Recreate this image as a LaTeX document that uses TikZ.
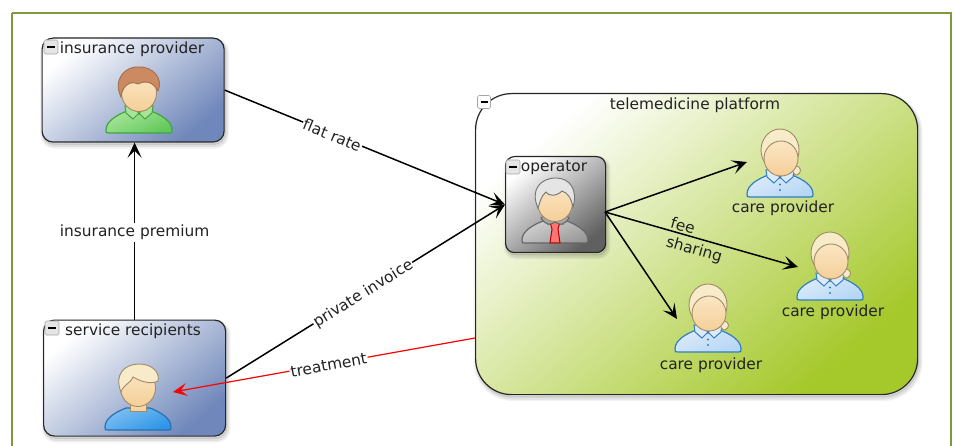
\documentclass[tikz,border=0pt]{standalone}
\usepackage{fontspec}
\setmainfont{DejaVu Sans}
\usetikzlibrary{arrows.meta,calc}
\definecolor{frame}{HTML}{7E9A3C}
\definecolor{inktext}{HTML}{222222}
\definecolor{bluebox}{HTML}{6F87BA}
\definecolor{greenbox}{HTML}{A5C82A}
\definecolor{graybox}{HTML}{606060}
\definecolor{skinlight}{HTML}{FBE6C4}
\definecolor{skindark}{HTML}{F5CF98}
\definecolor{skinedge}{HTML}{A08B66}
\definecolor{insA}{HTML}{A8E59A}
\definecolor{insB}{HTML}{62C85A}
\definecolor{insE}{HTML}{3FA53F}
\definecolor{srvA}{HTML}{7FBFF2}
\definecolor{srvB}{HTML}{2E95E8}
\definecolor{srvE}{HTML}{2A6FB0}
\definecolor{cpA}{HTML}{DCEBFA}
\definecolor{cpB}{HTML}{B5D6F5}
\definecolor{cpE}{HTML}{2F7FC0}
\definecolor{hairbrown}{HTML}{CC8A62}
\definecolor{hairbrownE}{HTML}{A0704F}
\definecolor{hairblond}{HTML}{F8EBC9}
\tikzset{
  softshadow/.style={
    preaction={draw=black,draw opacity=.05,line width=7pt,transform canvas={shift={(1.5pt,-3pt)}}},
    preaction={draw=black,draw opacity=.07,line width=4pt,transform canvas={shift={(1.5pt,-3pt)}}},
    preaction={draw=black,draw opacity=.10,line width=1.5pt,transform canvas={shift={(1pt,-2pt)}}}},
  actorbox/.style={draw=black!85,line width=1.2pt,rounded corners=11pt,inner sep=0pt,softshadow,
    top color=white,bottom color=bluebox,shading angle=40},
  groupbox/.style={draw=black!85,line width=1.2pt,rounded corners=36pt,inner sep=0pt,softshadow,
    top color=white,bottom color=greenbox,shading angle=40},
  opbox/.style={draw=black!85,line width=1.2pt,rounded corners=9pt,inner sep=0pt,softshadow,
    top color=white,bottom color=graybox,shading angle=40},
  flow/.style={draw=black,line width=1.5pt,-{Stealth[length=15pt,width=14pt,inset=7pt]}},
  redflow/.style={draw=red,line width=1.2pt,-{Stealth[length=14pt,width=13pt,inset=6pt]}},
  txt/.style={font=\fontsize{15.4}{17}\selectfont,text=inktext,inner sep=0pt,yshift=-1pt},
  lab/.style={txt,fill=white,inner xsep=1pt,inner ysep=2pt},
  labclear/.style={txt},
  minusbox/.style={draw=black!35,fill=black!10,rounded corners=1.5pt,minimum width=14pt,minimum height=14pt,inner sep=0pt,line width=.6pt},
  skin/.style={draw=skinedge,line width=.9pt,top color=skinlight,bottom color=skindark}
}
% #1 x, #2 y, #3 body light, #4 body dark, #5 body edge
\newcommand\torso[5]{%
  \begin{scope}[shift={(#1,#2)}]
    \path[draw=#5,line width=1.2pt,top color=#3,bottom color=#4,shading angle=25]
      (-33,37) .. controls (-33,28) and (-22,22) .. (-12,18) -- (12,18)
      .. controls (22,22) and (33,28) .. (33,37) .. controls (33,40) .. (30,40)
      -- (-30,40) .. controls (-33,40) .. (-33,37) -- cycle;
    \path[skin] (-8,9) -- (-8,21) -- (8,21) -- (8,9) -- cycle;
  \end{scope}}
% #1 x, #2 y, #3 edge, #4 fill
\newcommand\collar[4]{%
  \begin{scope}[shift={(#1,#2)}]
    \path[draw=#3,line width=1pt,fill=#4] (-14,13) -- (-13,20) -- (-6,26) -- (0,20) -- (-9,13) -- cycle;
    \path[draw=#3,line width=1pt,fill=#4] (14,13) -- (13,20) -- (6,26) -- (0,20) -- (9,13) -- cycle;
  \end{scope}}
\newcommand\headshape[2]{%
  \path[skin,shift={(#1,#2)}] (0,0) ellipse[x radius=17.5,y radius=18.5];}
\begin{document}
\begin{tikzpicture}[x=1pt,y=-1pt]
\useasboundingbox (0,0) rectangle (955,446);
\fill[white] (0,0) rectangle (955,446);
\draw[frame,line width=2pt] (12,13) -- (950.5,13) -- (950.5,446) (12,13) -- (12,446);

% group
\node[groupbox,minimum width=442pt,minimum height=301pt,anchor=north west] (group) at (475,93) {};
\node[minusbox,minimum width=13pt,minimum height=13pt,fill=white] (gbtn) at (484,102) {\rule{7pt}{1.6pt}};
\node[txt] (gtitle) at (695,104) {telemedicine platform};

% boxes
\node[actorbox,minimum width=182pt,minimum height=104pt,anchor=north west] (ins) at (41.5,37.5) {};
\node[actorbox,minimum width=182pt,minimum height=116pt,anchor=north west] (srv) at (43,319.5) {};
\node[opbox,minimum width=100pt,minimum height=96pt,anchor=north west] (op) at (505,156) {};

\node[minusbox] (ibtn) at (51,47) {\rule{8pt}{2pt}};
\node[minusbox] (sbtn) at (52,328) {\rule{8pt}{2pt}};
\node[minusbox] (obtn) at (513,167) {\rule{8pt}{2pt}};
\node[txt] (inst) at (132,48.5) {insurance provider};
\node[txt] (srvt) at (133,330.5) {service recipients};
\node[txt] (opt) at (554,167) {operator};

% insurance provider person
\torso{139}{93}{insA}{insB}{insE}
\collar{139}{93}{insE}{insA}
\headshape{139}{93}
\path[draw=hairbrownE,line width=.9pt,fill=hairbrown]
  (121,97) .. controls (112,78) and (127,66) .. (138,67)
  .. controls (152,66) and (164,78) .. (158,91)
  .. controls (153,82) and (146,80) .. (138,84)
  .. controls (130,80) and (122,86) .. (121,97) -- cycle;

% service recipients person
\torso{138}{390}{srvA}{srvB}{srvE}
\headshape{138}{388}
\path[draw=skinedge,line width=.9pt,fill=hairblond]
  (121,392) .. controls (114,375) and (124,364) .. (139,364)
  .. controls (152,364) and (160,372) .. (158,381)
  .. controls (150,385) and (140,381) .. (133,377)
  .. controls (130,384) and (124,384) .. (121,392) -- cycle;

% operator person
\torso{555}{203}{black!18}{black!40}{black!60}
\path[draw=red!70!black,line width=1pt,fill=red!55!white] (550,222) -- (560,222) -- (558,229) -- (560,243) -- (550,243) -- (552,229) -- cycle;
\path[draw=black!60,line width=1pt,fill=black!35] (541,218) .. controls (546,226) and (551,225) .. (555,222) .. controls (559,225) and (564,226) .. (569,218) -- (563,213) -- (547,213) -- cycle;
\headshape{555}{203}
\path[draw=black!55,line width=.9pt,fill=black!10]
  (538,208) .. controls (530,190) and (540,178) .. (556,178)
  .. controls (570,178) and (578,190) .. (573,207)
  .. controls (571,198) and (568,193) .. (562,191)
  .. controls (556,197) and (548,196) .. (546,192)
  .. controls (541,196) and (540,202) .. (538,208) -- cycle;

% care providers
\foreach \cx/\cy in {780/157,830/260,708/312}{
  \torso{\cx}{\cy}{cpA}{cpB}{cpE}
  \collar{\cx}{\cy}{cpE}{cpA}
  \begin{scope}[shift={(\cx,\cy)}]
    \fill[cpE] (0,27.5) circle[radius=1.2] (0,33) circle[radius=1.2];
    \path[draw=skinedge,line width=.9pt,fill=hairblond] (15,9) .. controls (22,9) and (22,16) .. (17,18) .. controls (14,18) and (12,15) .. (13,12) -- cycle;
    \path[draw=skinedge,line width=.9pt,fill=hairblond] (0,-7) ellipse[x radius=19,y radius=21];
    \path[skin] (1,1.5) ellipse[x radius=17,y radius=17.5];
  \end{scope}}
\node[txt] (c1) at (783,207.5) {care provider};
\node[txt] (c2) at (833,311.5) {care provider};
\node[txt] (c3) at (711,364) {care provider};

\coordinate (opout) at (605,212);
\coordinate (tip1) at (747,162);
\coordinate (tip2) at (798,267);
\coordinate (tip3) at (677,319);
\coordinate (redstart) at (475,338);
\coordinate (redtip) at (173,392);

% connectors
\draw[flow] (srv.north) -- node[lab,pos=.5] (lprem) {insurance premium} (srv.north |- ins.south);
\draw[flow] (ins.east) -- node[lab,sloped,pos=.385] (lflat) {flat rate} (op.west);
\draw[redflow] (redstart) -- node[lab,sloped,pos=.485] (ltreat) {treatment} (redtip);
\draw[flow] (srv.east) -- node[lab,sloped,pos=.49] (linv) {private invoice} (op.west);
\draw[flow] (opout) -- (tip1);
\draw[flow] (opout) -- (tip2);
\draw[flow] (opout) -- (tip3);
\node[labclear,rotate=-16] (lfee) at (683,224.5) {fee};
\node[labclear,rotate=-16] (lshare) at (694,249) {sharing};
\end{tikzpicture}
\end{document}
